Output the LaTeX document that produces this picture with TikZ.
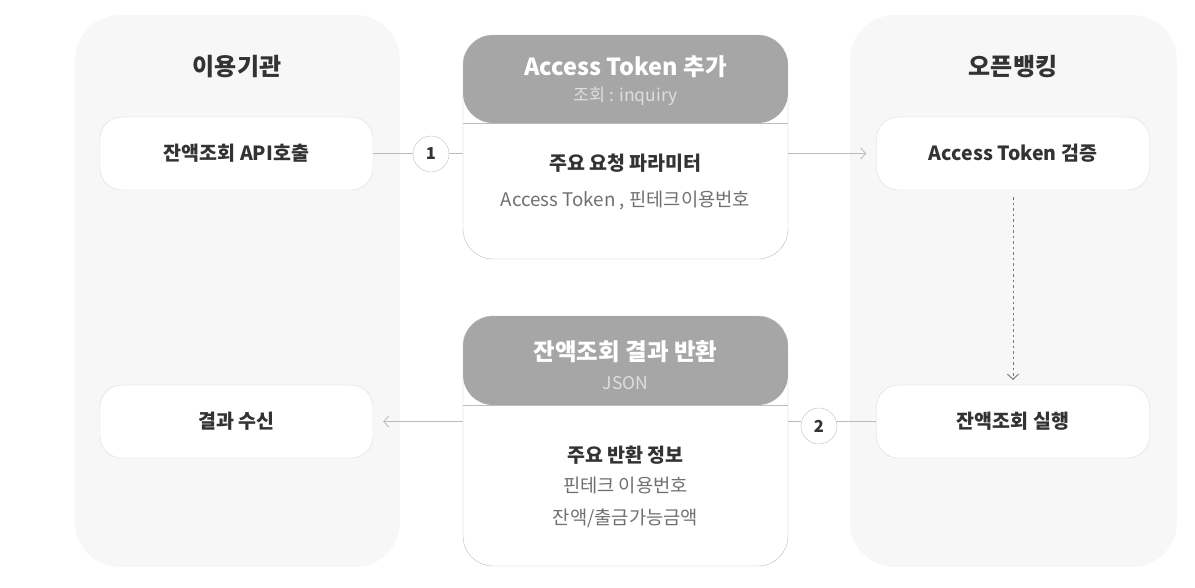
\documentclass[tikz,border=0pt]{standalone}
\usepackage{fontspec}
\setmainfont{Noto Sans CJK KR}
\usetikzlibrary{arrows.meta}
\definecolor{panelbg}{HTML}{F7F7F7}
\definecolor{boxline}{HTML}{DCDCDC}
\definecolor{hdr}{HTML}{A6A6A6}
\definecolor{cardline}{HTML}{BDBDBD}
\definecolor{txt}{HTML}{333333}
\definecolor{subtxt}{HTML}{707070}
\definecolor{hdrsub}{HTML}{DEDEDE}
\definecolor{conn}{HTML}{BBBBBB}
\definecolor{dashc}{HTML}{777777}
\tikzset{
  panel/.style={fill=panelbg, draw=none, rounded corners=45pt},
  sidebox/.style={draw=boxline, fill=white, rounded corners=22pt, minimum width=273pt, minimum height=73pt, inner sep=0pt, text=txt, font=\bfseries\fontsize{19.5}{23}\selectfont},
  ptitle/.style={text=txt, font=\bfseries\fontsize{24}{28}\selectfont},
  card/.style={draw=cardline, fill=white, rounded corners=30pt, minimum width=325pt, inner sep=0pt,
    path picture={\fill[hdr] (path picture bounding box.north west) rectangle ([yshift=-#1]path picture bounding box.north east);
      \draw[cardline] ([yshift=-#1]path picture bounding box.north west) -- ([yshift=-#1]path picture bounding box.north east);}},
  htitle/.style={text=white, font=\bfseries\fontsize{23.5}{27}\selectfont},
  hsub/.style={text=hdrsub, font=\fontsize{17.5}{20}\selectfont},
  btitle/.style={text=txt, font=\bfseries\fontsize{19.5}{23}\selectfont},
  btext/.style={text=subtxt, font=\fontsize{18.75}{22}\selectfont},
  num/.style={circle, draw=cardline, fill=white, minimum size=36pt, inner sep=0pt, text=txt, font=\bfseries\fontsize{16.5}{19}\selectfont},
  conline/.style={draw=conn, line width=0.8pt},
  arr/.style={conline, -{Straight Barb[length=5pt,width=11pt]}},
}
\begin{document}
\begin{tikzpicture}[x=1pt,y=-1pt]
\useasboundingbox (0,0) rectangle (1195,587);
% panels
\path[panel] (75,15) rectangle (400,567);
\path[panel] (850,15) rectangle (1177,567);
\node[ptitle] (t1) at (237,67) {이용기관};
\node[ptitle] (t2) at (1013,67) {오픈뱅킹};
% side boxes
\node[sidebox] (lb1) at (236.5,153.5) {잔액조회 API호출};
\node[sidebox] (lb2) at (236.5,421.5) {결과 수신};
\node[sidebox] (rb1) at (1013,153.5) {Access Token 검증};
\node[sidebox] (rb2) at (1013,421.5) {잔액조회 실행};
% cards
\node[card=88pt, minimum height=224pt] (c1) at (625.5,147) {};
\node[card=89pt, minimum height=250pt] (c2) at (625.5,441) {};
\node[htitle] (c1t) at (625.5,67) {Access Token 추가};
\node[hsub] (c1s) at (625.5,96) {조회 : inquiry};
\node[btitle] (c1b) at (625.5,163) {주요 요청 파라미터};
\node[btext] (c1x) at (625.5,201) {Access Token , 핀테크이용번호};
\node[htitle] (c2t) at (625.5,352) {잔액조회 결과 반환};
\node[hsub] (c2s) at (625.5,383) {JSON};
\node[btitle] (c2b) at (625.5,455) {주요 반환 정보};
\node[btext] (c2x) at (625.5,485) {핀테크 이용번호};
\node[btext] (c2y) at (625.5,518) {잔액/출금가능금액};
% number circles
\node[num] (n1) at (431,154) {1};
\node[num] (n2) at (819,426) {2};
% connectors
\draw[conline] (lb1.east) -- (lb1.east -| n1.west);
\draw[conline] (n1.east |- lb1.east) -- (c1.west |- lb1.east);
\draw[arr, shorten >=10pt] (c1.east |- lb1.east) -- (rb1.west);
\draw[draw=dashc, line width=0.9pt, dash pattern=on 2.5pt off 3pt, -{Straight Barb[length=5pt,width=11pt]}, shorten <=7pt, shorten >=5pt] (rb1.south) -- (rb2.north);
\draw[conline] (rb2.west) -- (rb2.west -| n2.east);
\draw[conline] (n2.west |- rb2.west) -- (c2.east |- rb2.west);
\draw[arr, shorten >=10pt] (c2.west |- lb2.east) -- (lb2.east);
\end{tikzpicture}
\end{document}
